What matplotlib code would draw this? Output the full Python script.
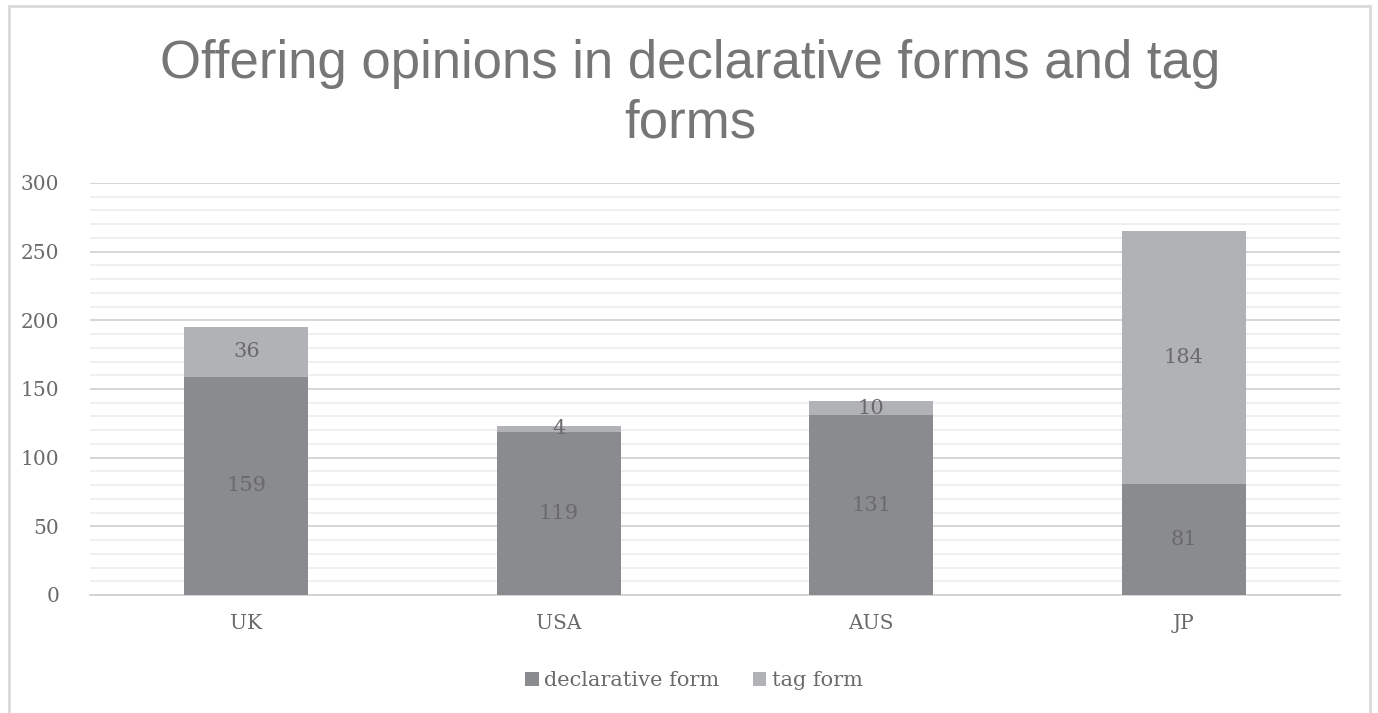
import matplotlib.pyplot as plt
import matplotlib.patches as mpatches
import numpy as np

countries = ['UK', 'USA', 'AUS', 'JP']
declarative = [159, 119, 131, 81]
tag = [36, 4, 10, 184]

dark = '#8a8b8f'
light = '#b1b2b6'
text_gray = '#6a6a6a'
title_gray = '#767676'
serif = 'DejaVu Serif'

fig = plt.figure(figsize=(13.78, 7.13), dpi=100)
W, H = 1378, 713

# light frame round the chart area, open at the bottom
frame = mpatches.Rectangle((9 / W, -0.02), (1370 - 9) / W, 1.02 - 6 / H,
                           transform=fig.transFigure, fill=False,
                           edgecolor='#d9d9d9', linewidth=2)
fig.patches.append(frame)

ax = fig.add_axes([90 / W, (H - 595) / H, (1340 - 90) / W, (595 - 183) / H])

x = np.arange(len(countries))
width = 0.397
ax.bar(x, declarative, width, color=dark, label='declarative form', zorder=3)
ax.bar(x, tag, width, bottom=declarative, color=light, label='tag form', zorder=3)

# value labels centred in each segment
for i in range(len(countries)):
    ax.text(x[i], declarative[i] / 2, str(declarative[i]), ha='center', va='center',
            fontsize=15, color=text_gray, family=serif, zorder=4)
    ax.text(x[i], declarative[i] + tag[i] / 2, str(tag[i]), ha='center', va='center',
            fontsize=15, color=text_gray, family=serif, zorder=4)

ax.set_xlim(-0.5, len(countries) - 0.5)
ax.set_ylim(0, 300)
ax.set_yticks(range(0, 301, 50))
ax.set_yticks(range(0, 301, 10), minor=True)
ax.grid(axis='y', which='major', color='#d0d0d0', linewidth=1.2, zorder=0)
ax.grid(axis='y', which='minor', color='#ececec', linewidth=1.2, zorder=0)
ax.set_xticks(x)
ax.set_xticklabels(countries)
for lab in ax.get_xticklabels() + ax.get_yticklabels():
    lab.set_family(serif)
    lab.set_fontsize(14.5)
    lab.set_color(text_gray)
ax.tick_params(axis='both', which='both', length=0)
ax.tick_params(axis='y', pad=22)
ax.tick_params(axis='x', pad=14)
for s in ['top', 'right', 'left']:
    ax.spines[s].set_visible(False)
ax.spines['bottom'].set_color('#d0d0d0')
ax.spines['bottom'].set_linewidth(1.2)

fig.text(690 / W, 1 - 94 / H, 'Offering opinions in declarative forms and tag\nforms',
         ha='center', va='center', fontsize=38, color=title_gray,
         family='Liberation Sans', linespacing=1.24)

leg = ax.legend(loc='center', bbox_to_anchor=(694 / W, 1 - 681 / H),
                bbox_transform=fig.transFigure, ncol=2, frameon=False,
                prop={'family': serif, 'size': 15}, handlelength=0.65, handleheight=0.65,
                handletextpad=0.25, columnspacing=1.6)
for t in leg.get_texts():
    t.set_color(text_gray)

fig.savefig('out.png', dpi=100)
